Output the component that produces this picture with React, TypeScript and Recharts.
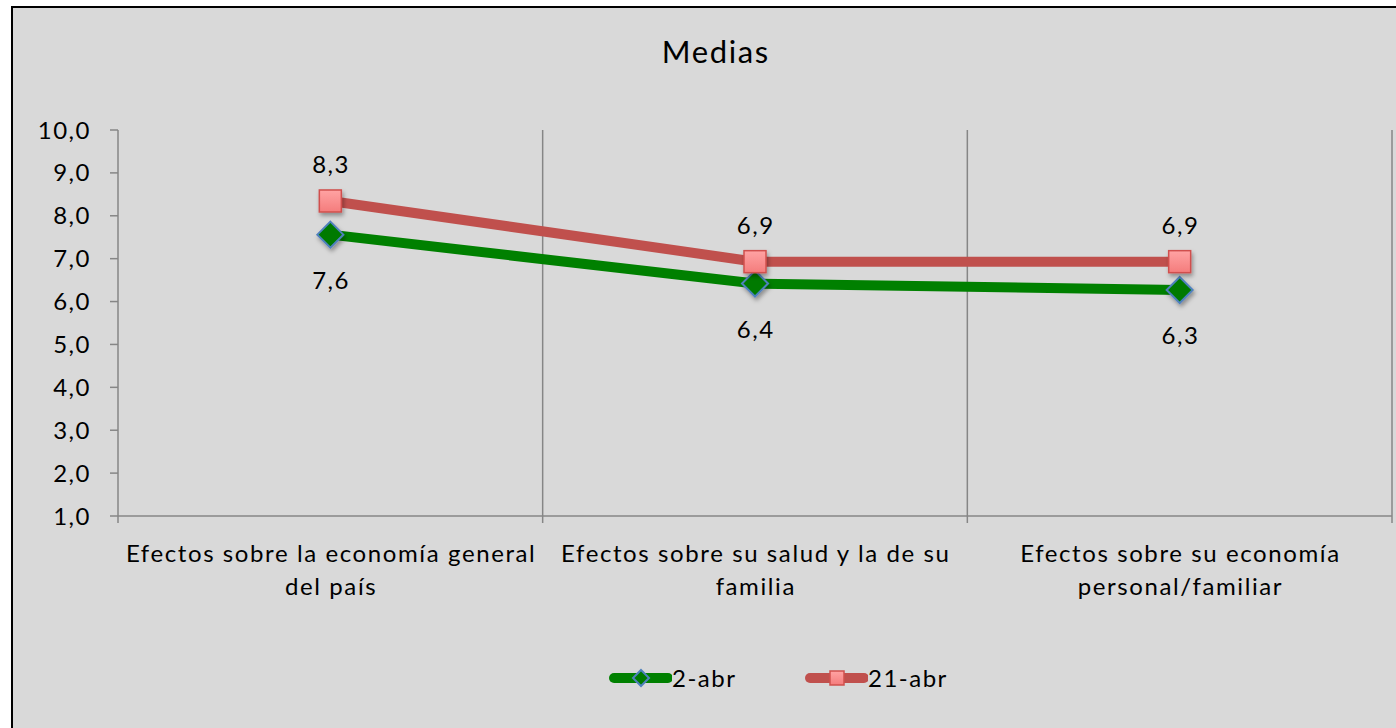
import React from 'react';
import { LineChart, Line, XAxis, YAxis, CartesianGrid, Legend, LabelList } from 'recharts';

const categories = [
  'Efectos sobre la economía general\ndel país',
  'Efectos sobre su salud y la de su\nfamilia',
  'Efectos sobre su economía\npersonal/familiar',
];
const seriesNames = ['2-abr', '21-abr'];
const values2abr = [7.56, 6.42, 6.27];
const values21abr = [8.345, 6.93, 6.93];
const yTicks = [1, 2, 3, 4, 5, 6, 7, 8, 9, 10];
const title = 'Medias';

const data = categories.map((c, i) => ({ cat: c, a: values2abr[i], b: values21abr[i] }));

const FONT = 'Lato, "Open Sans", sans-serif';
const FS = 24;
const LS = 1.5;
const AXIS = '#868686';
const GREEN = '#008000';
const RED = '#C0504D';
const fmt = (v: number) => (Math.round(v * 10 - 0.001) / 10).toFixed(1).replace('.', ',');

const W = 1396;
const H = 728;

const XTick = (props: any) => {
  const { x, y, payload, index, visibleTicksCount } = props;
  const half = payload && payload.offset ? payload.offset : 0;
  const lines = String(payload.value).split('\n');
  return (
    <g>
      <line x1={x - half} x2={x - half} y1={y} y2={y + 7} stroke={AXIS} strokeWidth={1.5} />
      {index === visibleTicksCount - 1 && (
        <line x1={x + half} x2={x + half} y1={y} y2={y + 7} stroke={AXIS} strokeWidth={1.5} />
      )}
      <text
        x={x}
        y={y + 46}
        textAnchor="middle"
        fontFamily={FONT}
        fontSize={FS}
        letterSpacing={1.6}
        fill="#000"
      >
        {lines.map((l, i) => (
          <tspan key={i} x={x + 0.8} dy={i === 0 ? 0 : 33}>
            {l}
          </tspan>
        ))}
      </text>
    </g>
  );
};

const Diamond = ({ cx, cy, r = 13, shadow = true }: any) => (
  <g>
    <polygon
      points={`${cx},${cy - r} ${cx + r},${cy} ${cx},${cy + r} ${cx - r},${cy}`}
      fill="#007A00"
      stroke="#4F81BD"
      strokeWidth={2}
      filter={shadow ? 'url(#mshadow)' : undefined}
    />
  </g>
);

const Square = ({ cx, cy, s = 11, shadow = true }: any) => (
  <g>
    <rect
      x={cx - s}
      y={cy - s}
      width={2 * s}
      height={2 * s}
      fill="url(#sqgrad)"
      stroke="#D0504D"
      strokeWidth={1.5}
      filter={shadow ? 'url(#mshadow)' : undefined}
    />
  </g>
);

const GreenDot = (p: any) => <Diamond key={`g${p.index}`} cx={p.cx} cy={p.cy} />;
const RedDot = (p: any) => <Square key={`r${p.index}`} cx={p.cx} cy={p.cy} />;

const LabelAbove = (p: any) => (
  <text
    x={p.x + LS / 2}
    y={p.y - 28}
    textAnchor="middle"
    fontFamily={FONT}
    fontSize={FS}
    letterSpacing={LS}
    fill="#000"
  >
    {fmt(Number(p.value))}
  </text>
);
const LabelBelow = (p: any) => (
  <text
    x={p.x + LS / 2}
    y={p.y + 54}
    textAnchor="middle"
    fontFamily={FONT}
    fontSize={FS}
    letterSpacing={LS}
    fill="#000"
  >
    {fmt(Number(p.value))}
  </text>
);

const LegendContent = () => (
  <div
    style={{
      position: 'relative',
      height: 30,
      fontFamily: FONT,
      fontSize: 24,
      color: '#000',
      letterSpacing: '1.5px',
    }}
  >
    <div style={{ position: 'absolute', left: 606, top: 0, display: 'flex', alignItems: 'center' }}>
      <svg width={66} height={30}>
        <line x1={8} x2={62} y1={15} y2={15} stroke={GREEN} strokeWidth={10} strokeLinecap="round" />
        <Diamond cx={35} cy={15} r={8} shadow={false} />
      </svg>
      <span style={{ lineHeight: '30px' }}>{seriesNames[0]}</span>
    </div>
    <div style={{ position: 'absolute', left: 802, top: 0, display: 'flex', alignItems: 'center' }}>
      <svg width={66} height={30}>
        <line x1={8} x2={62} y1={15} y2={15} stroke={RED} strokeWidth={10} strokeLinecap="round" />
        <Square cx={35} cy={15} s={7} shadow={false} />
      </svg>
      <span style={{ lineHeight: '30px' }}>{seriesNames[1]}</span>
    </div>
  </div>
);

export default function App() {
  return (
    <div>
      <div
        style={{
          position: 'fixed',
          left: 11,
          top: 6,
          width: 1400,
          height: 740,
          border: '2px solid #000',
          background: '#D9D9D9',
        }}
      />
      <svg style={{ position: 'fixed', left: 0, top: 0 }} width={W} height={120}>
        <text
          x={715 + 0.8}
          y={63}
          textAnchor="middle"
          fontFamily={FONT}
          fontSize={31}
          letterSpacing={1.6}
          fill="#000"
        >
          {title}
        </text>
      </svg>
      <svg width={0} height={0} style={{ position: 'fixed' }}>
        <defs>
          <filter id="mshadow" x="-50%" y="-50%" width="200%" height="200%">
            <feDropShadow dx={1.5} dy={3} stdDeviation={2} floodColor="#000" floodOpacity={0.35} />
          </filter>
          <linearGradient id="sqgrad" x1="0" y1="0" x2="0" y2="1">
            <stop offset="0%" stopColor="#FFA3A3" />
            <stop offset="100%" stopColor="#F47C7C" />
          </linearGradient>
        </defs>
      </svg>
      <div style={{ position: 'fixed', left: 0, top: 0 }}>
        <LineChart
          width={W}
          height={H}
          data={data}
          margin={{ top: 130, right: 4, bottom: 152, left: 58 }}
        >
          <CartesianGrid
            horizontal={false}
            vertical
            stroke={AXIS}
            strokeWidth={1.5}
            verticalCoordinatesGenerator={({ offset }: any) =>
              categories.map((_, i) => offset.left + (offset.width * (i + 1)) / categories.length)
            }
          />
          <XAxis
            dataKey="cat"
            scale="band"
            interval={0}
            height={60}
            tickSize={0}
            tickMargin={0}
            tickLine={false}
            axisLine={{ stroke: AXIS, strokeWidth: 1.5 }}
            tick={<XTick />}
          />
          <YAxis
            width={60}
            domain={[1, 10]}
            ticks={yTicks}
            interval={0}
            tickFormatter={fmt}
            tickSize={8}
            tickMargin={19}
            axisLine={{ stroke: AXIS, strokeWidth: 1.5 }}
            tickLine={{ stroke: AXIS, strokeWidth: 1.5 }}
            tick={{ fill: '#000', fontFamily: FONT, fontSize: FS, letterSpacing: LS }}
          />
          <Legend
            layout="horizontal"
            verticalAlign="middle"
            align="center"
            wrapperStyle={{ position: 'absolute', top: 663, left: 0, width: W }}
            content={<LegendContent />}
          />
          <Line
            dataKey="a"
            name={seriesNames[0]}
            stroke={GREEN}
            strokeWidth={10}
            dot={GreenDot}
            activeDot={false}
            isAnimationActive={false}
          >
            <LabelList dataKey="a" content={LabelBelow} />
          </Line>
          <Line
            dataKey="b"
            name={seriesNames[1]}
            stroke={RED}
            strokeWidth={10}
            dot={RedDot}
            activeDot={false}
            isAnimationActive={false}
          >
            <LabelList dataKey="b" content={LabelAbove} />
          </Line>
        </LineChart>
      </div>
    </div>
  );
}
